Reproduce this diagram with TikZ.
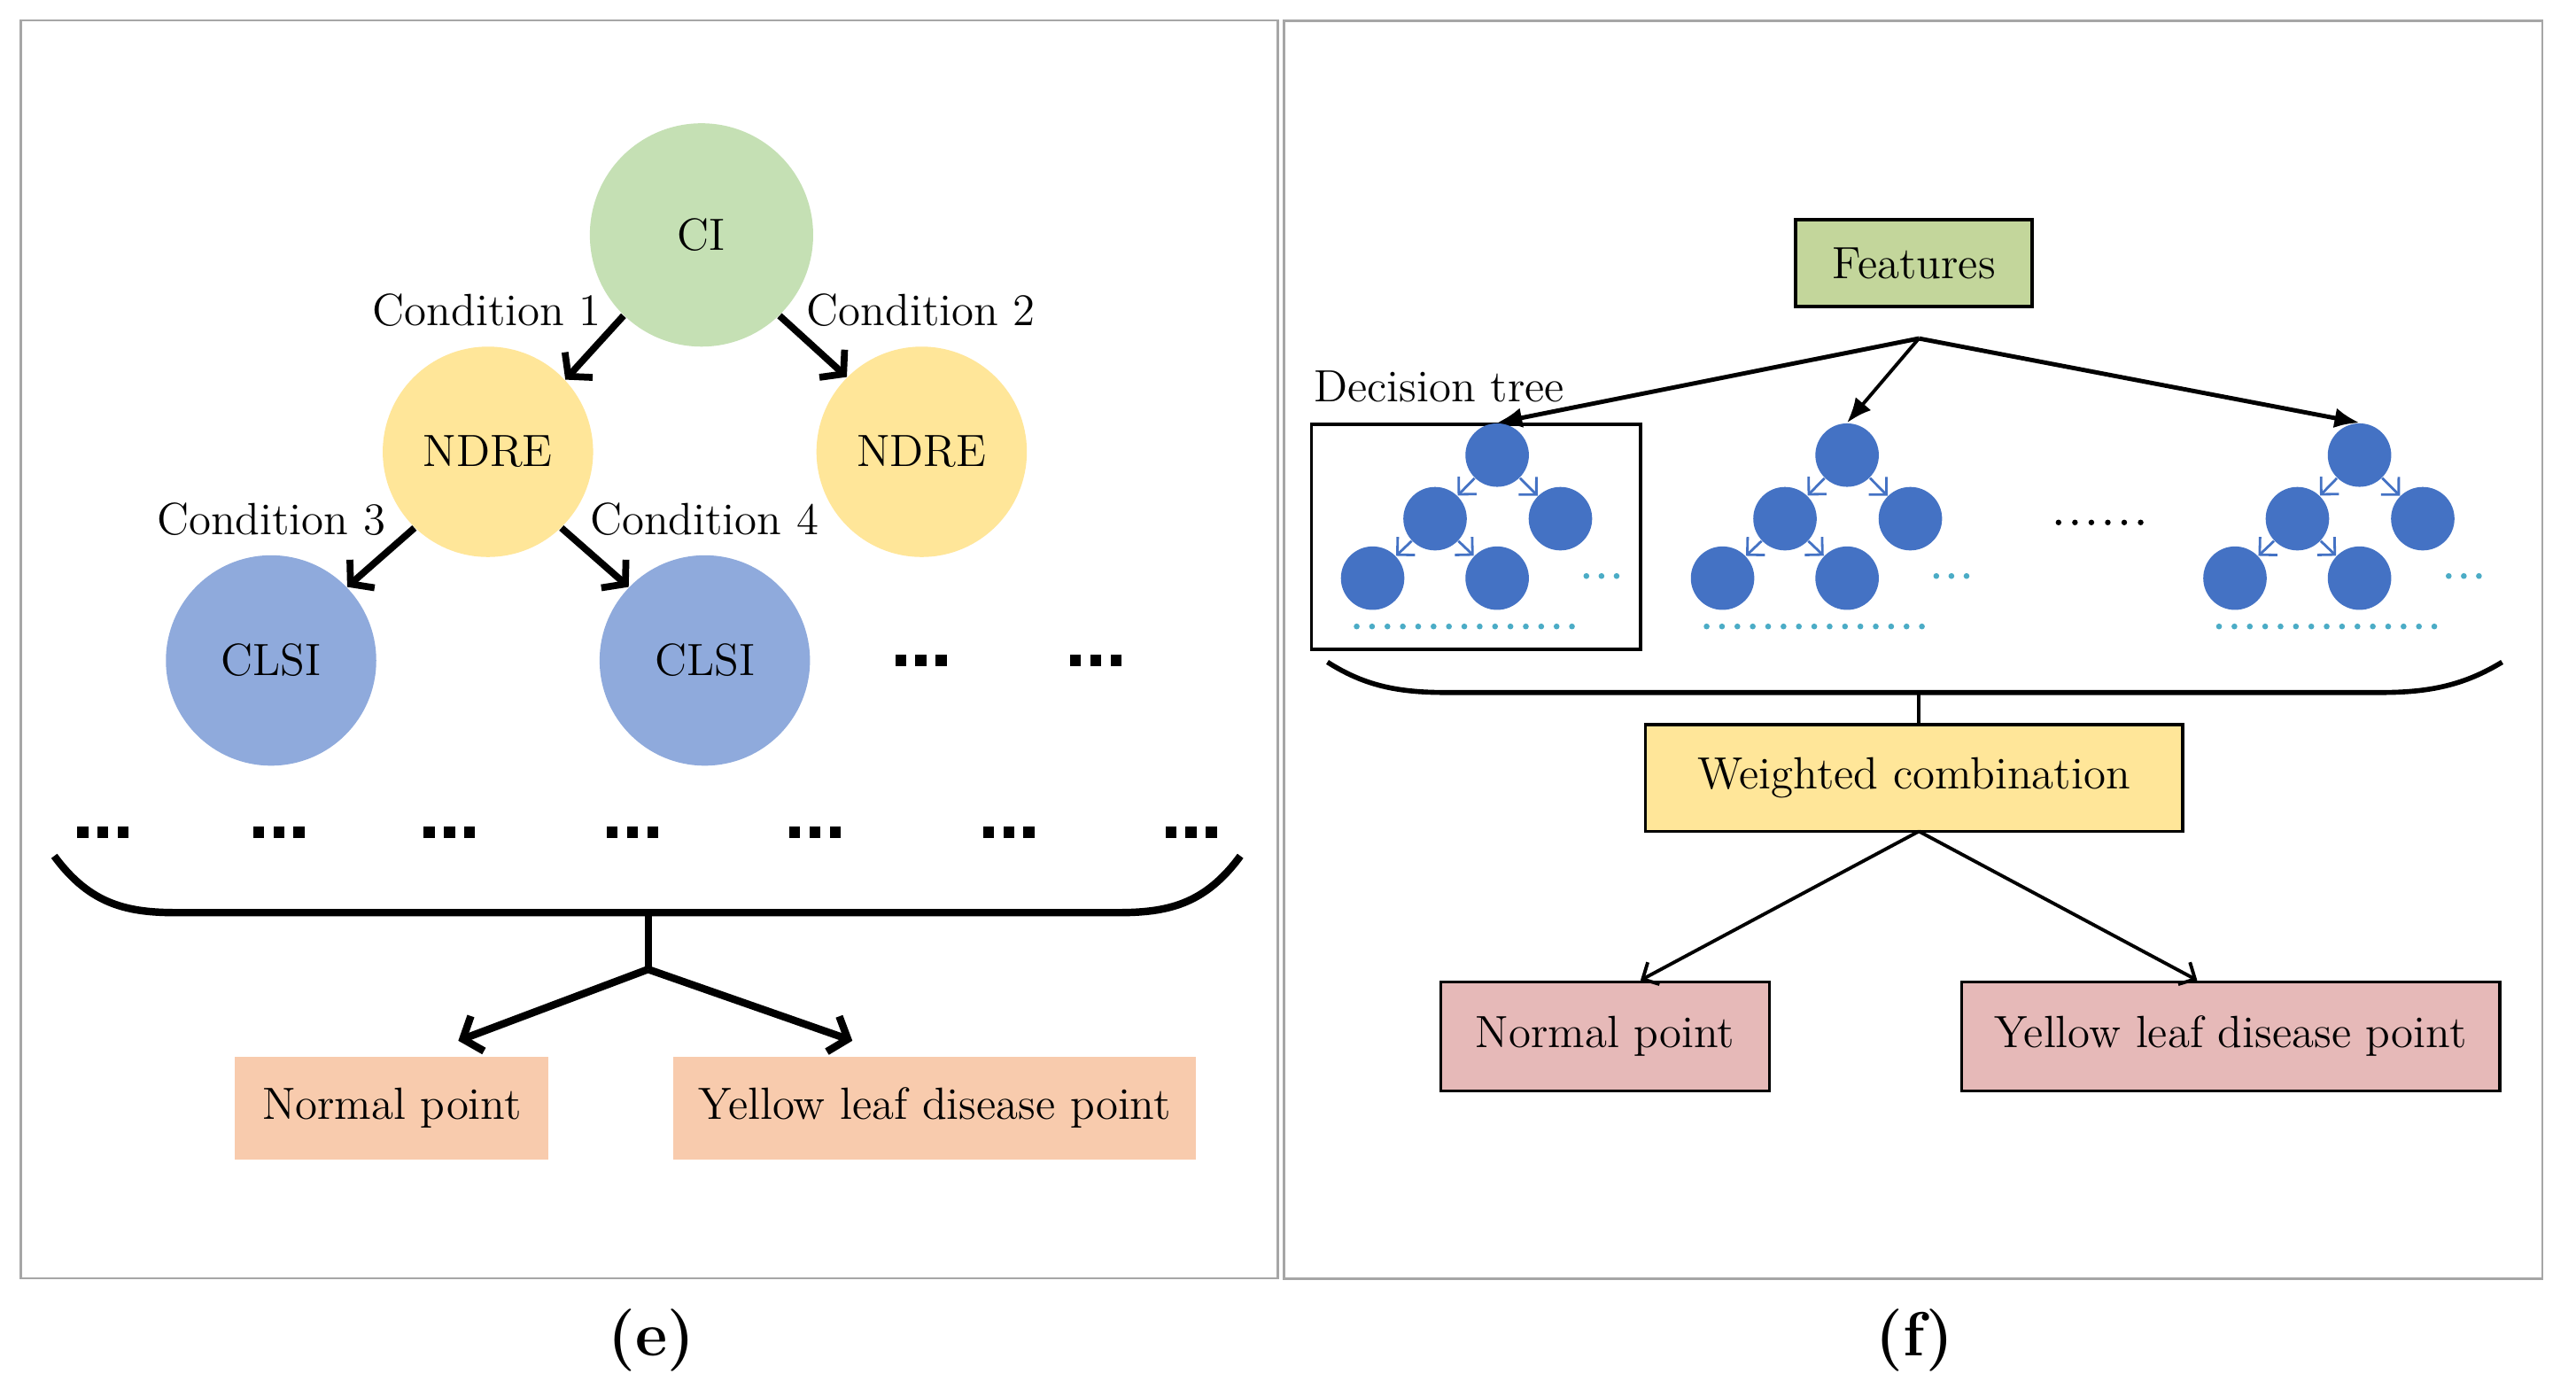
\documentclass[tikz,border=0pt]{standalone}
\usetikzlibrary{arrows.meta}
\definecolor{cigreen}{HTML}{C5E0B4}
\definecolor{ndreyellow}{HTML}{FFE699}
\definecolor{clsiblue}{HTML}{8FAADC}
\definecolor{peach}{HTML}{F8CBAD}
\definecolor{featgreen}{HTML}{C3D69B}
\definecolor{outpink}{HTML}{E6B9B8}
\definecolor{treeblue}{HTML}{4472C4}
\definecolor{dotcyan}{HTML}{4BACC6}
\definecolor{framegray}{HTML}{A6A6A6}
\newcommand\sqdots{\rule{3.5pt}{3.5pt}\hspace{3pt}\rule{3.5pt}{3.5pt}\hspace{3pt}\rule{3.5pt}{3.5pt}}
\begin{document}
\begin{tikzpicture}[x=0.018546cm,y=-0.018546cm,
  every node/.style={font=\fontsize{14.5}{17}\selectfont},
  circ/.style={circle,inner sep=0pt,minimum size=2.374cm},
  lbl/.style={inner sep=0pt},
  dotsnode/.style={inner sep=0pt},
  bigarrow/.style={line width=2.2pt,-{Straight Barb[length=5pt,width=12pt]}},
  bracestyle/.style={line width=2.4pt},
  outbox/.style={inner sep=0pt,minimum height=1.168cm},
  rbox/.style={draw=black,line width=1pt,inner sep=0pt},
  tnode/.style={circle,fill=treeblue,inner sep=0pt,minimum size=0.716cm},
  treearrow/.style={draw=treeblue,line width=0.8pt,-{Straight Barb[length=4pt,width=8pt]}},
  featarrow/.style={line width=1.4pt,-{Latex[length=8pt,width=6.5pt]}},
  wcarrow/.style={line width=1.1pt,-{Straight Barb[length=4pt,width=8pt]}},
  caption/.style={font=\fontsize{20}{24}\selectfont\bfseries}
]
\useasboundingbox (0,0) rectangle (1568,850);
\fill[white] (0,0) rectangle (1568,850);

% frames
\draw[framegray,line width=0.8pt] (12.6,12.4) rectangle (778,778);
\draw[framegray,line width=0.8pt] (781.5,12.8) rectangle (1547.5,778.5);

% ---------------- panel (e) ----------------
\node[circ,fill=cigreen,minimum size=2.52cm] (ci) at (427,143) {CI};
\node[circ,fill=ndreyellow] (ndl) at (297,275) {NDRE};
\node[circ,fill=ndreyellow] (ndr) at (561,275) {NDRE};
\node[circ,fill=clsiblue] (cll) at (165,402) {CLSI};
\node[circ,fill=clsiblue] (clr) at (429,402) {CLSI};

\draw[bigarrow] (ci.226) -- (ndl.43);
\draw[bigarrow] (ci.314) -- (ndr.135);
\draw[bigarrow] (ndl.226) -- (cll.44);
\draw[bigarrow] (ndl.314) -- (clr.136);

\node[lbl] (c1) at (296.5,189) {Condition 1};
\node[lbl] (c2) at (560.7,189) {Condition 2};
\node[lbl] (c3) at (165,316) {Condition 3};
\node[lbl] (c4) at (428.7,316) {Condition 4};

\node[dotsnode] (da) at (560.5,402) {\sqdots};
\node[dotsnode] (db) at (667,402) {\sqdots};
\foreach \x [count=\i] in {62.7,169.7,273.6,385,496,614,725}
  \node[dotsnode] (row\i) at (\x,506.6) {\sqdots};

\draw[bracestyle] (33,521) .. controls (55,551) and (78,555.5) .. (108,555.5)
  -- (680,555.5) .. controls (710,555.5) and (733,551) .. (755,521);
\coordinate (bl) at (394.5,555.5);
\coordinate (forkl) at (394.5,590);
\draw[line width=2.2pt] (bl) -- (forkl);

\node[outbox,fill=peach,minimum width=3.542cm] (npl) at (238.5,674.5) {Normal point};
\node[outbox,fill=peach,minimum width=5.898cm] (ylpl) at (569,674.5) {Yellow leaf disease point};

\draw[bigarrow,line width=2.4pt] (forkl) -- ([xshift=0.75cm,yshift=0.17cm]npl.north);
\draw[bigarrow,line width=2.4pt] (forkl) -- ([xshift=-0.93cm,yshift=0.17cm]ylpl.north);

\node[caption] (cape) at (396.6,816) {(e)};

% ---------------- panel (f) ----------------
\node[rbox,fill=featgreen,minimum width=2.671cm,minimum height=0.981cm] (feat) at (1165,160.2) {Features};
\coordinate (fo) at (1168,206);

\node[lbl] (dtl) at (876,235) {Decision tree};
\node[draw,line width=1pt,inner sep=0pt,minimum width=3.711cm,minimum height=2.539cm] (dtbox) at (898.45,326.85) {};

\foreach \X/\n in {911.3/a,1124.3/b,1436.2/c}{
  \node[tnode] (t\n1) at (\X,277) {};
  \node[tnode] (t\n2) at (\X-37.8,315.7) {};
  \node[tnode] (t\n3) at (\X+38.5,315.7) {};
  \node[tnode] (t\n4) at (\X-75.8,351.9) {};
  \node[tnode] (t\n5) at (\X,351.9) {};
  \draw[treearrow] (t\n1) -- (t\n2);
  \draw[treearrow] (t\n1) -- (t\n3);
  \draw[treearrow] (t\n2) -- (t\n4);
  \draw[treearrow] (t\n2) -- (t\n5);
  \foreach \k in {0,1,2}
    \fill[dotcyan] (\X+54.3+\k*9.2,350.6) circle[radius=0.033cm];
  \foreach \k in {0,...,14}
    \fill[dotcyan] (\X-85.5+\k*9.36,381.3) circle[radius=0.033cm];
}
\foreach \k in {0,...,5}
  \fill (1253+\k*10,318) circle[radius=0.032cm];

\draw[featarrow] (fo) -- (ta1.north);
\draw[featarrow,line width=1.1pt] (fo) -- (tb1.north);
\draw[featarrow] (fo) -- (tc1.north);

\draw[line width=1.6pt] (808,403) .. controls (830,417) and (850,421.5) .. (880,421.5)
  -- (1449,421.5) .. controls (1479,421.5) and (1500,417) .. (1523,403);
\coordinate (br) at (1168,421.5);

\node[rbox,fill=ndreyellow,minimum width=6.064cm,minimum height=1.205cm] (wc) at (1165,473.5) {Weighted combination};
\draw[line width=1.2pt] (br) -- (br |- wc.north);

\node[rbox,fill=outpink,minimum width=3.709cm,minimum height=1.231cm] (npr) at (977,630.8) {Normal point};
\node[rbox,fill=outpink,minimum width=6.074cm,minimum height=1.231cm] (ylpr) at (1357.75,630.8) {Yellow leaf disease point};

\coordinate (wcs) at (1168,506);
\draw[wcarrow] (wcs) -- ([xshift=0.4cm]npr.north);
\draw[wcarrow] (wcs) -- ([xshift=-0.377cm]ylpr.north);

\node[caption] (capf) at (1165.5,816) {(f)};
\end{tikzpicture}
\end{document}
